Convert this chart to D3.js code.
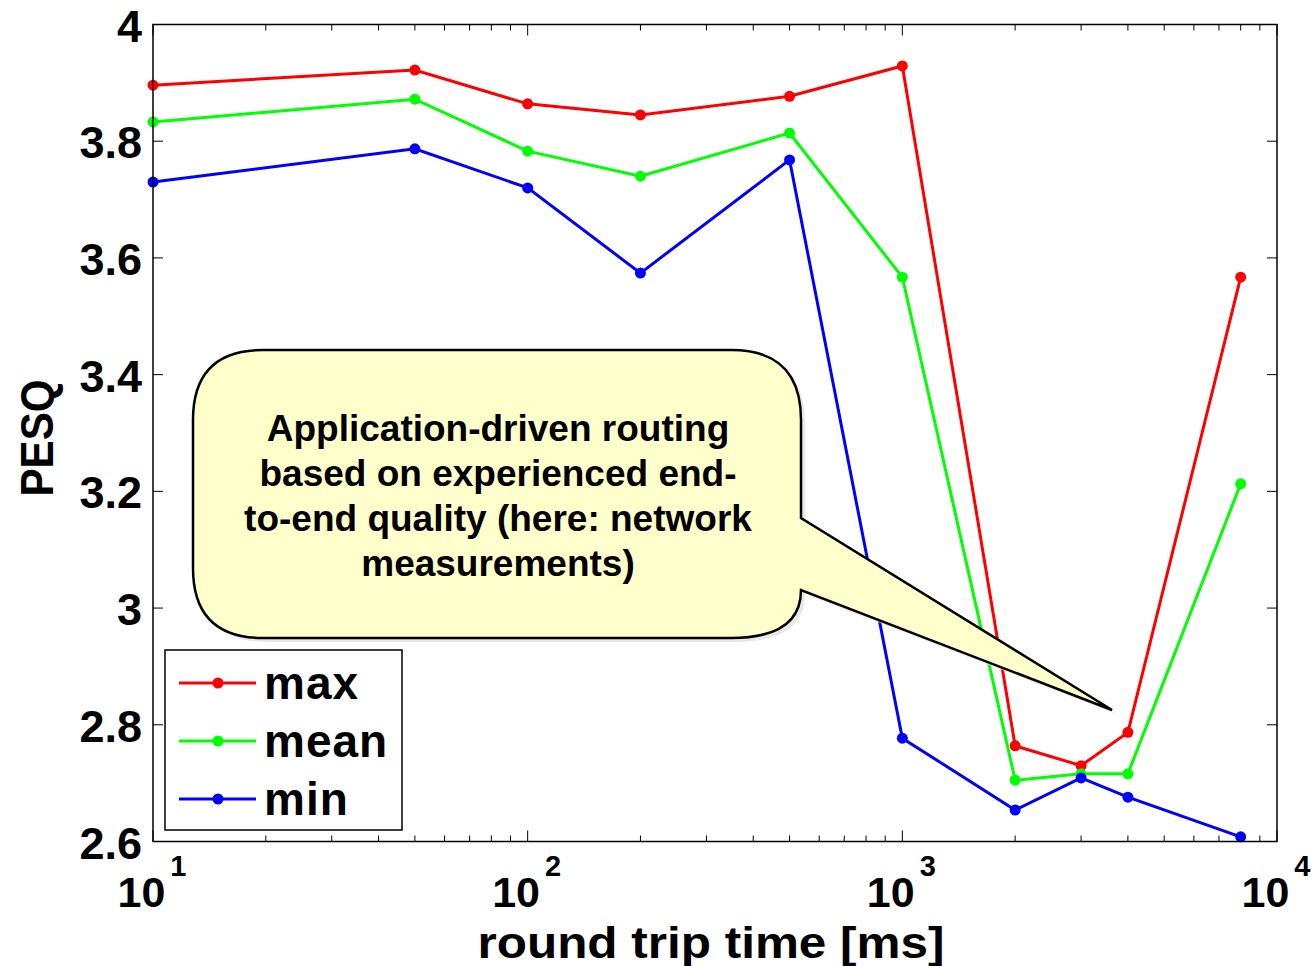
<!DOCTYPE html>
<html><head><meta charset="utf-8">
<script src="https://cdn.jsdelivr.net/npm/d3@7"></script>
<style>body{margin:0;background:#fff}svg{display:block}text{font-family:"Liberation Sans",Arial,sans-serif;font-weight:bold}</style>
</head><body>
<svg id="c" width="1312" height="966"></svg>
<script>
const rtt = [10, 50, 100, 200, 500, 1000, 2000, 3000, 4000, 8000];
const maxVals  = [3.896, 3.922, 3.864, 3.845, 3.877, 3.929, 2.764, 2.730, 2.787, 3.567];
const meanVals = [3.833, 3.872, 3.783, 3.740, 3.814, 3.567, 2.705, 2.716, 2.716, 3.213];
const minVals  = [3.730, 3.787, 3.720, 3.574, 3.768, 2.777, 2.654, 2.709, 2.676, 2.608];
const seriesNames = ["max", "mean", "min"];
const seriesColors = ["#ff0000", "#00ff00", "#0000ff"];
const yTicks = [2.6, 2.8, 3, 3.2, 3.4, 3.6, 3.8, 4];
const xTickExps = [1, 2, 3, 4];
const calloutLines = ["Application-driven routing", "based on experienced end-", "to-end quality (here: network", "measurements)"];

const svg = d3.select("#c");
const L = 153, R = 1277, T = 24.5, B = 841.5;
const x = d3.scaleLog().domain([10, 10000]).range([L, R]);
const y = d3.scaleLinear().domain([2.6, 4]).range([B, T]);

// ticks
const minor = [];
for (let e = 1; e < 4; e++) for (let m = 2; m <= 9; m++) minor.push(m * Math.pow(10, e));
const tg = svg.append("g").attr("stroke", "#000").attr("stroke-width", 1);
minor.forEach(v => {
  tg.append("line").attr("x1", x(v)).attr("x2", x(v)).attr("y1", B).attr("y2", B - 6);
  tg.append("line").attr("x1", x(v)).attr("x2", x(v)).attr("y1", T).attr("y2", T + 6);
});
xTickExps.forEach(e => {
  const v = Math.pow(10, e);
  tg.append("line").attr("x1", x(v)).attr("x2", x(v)).attr("y1", B).attr("y2", B - 11);
  tg.append("line").attr("x1", x(v)).attr("x2", x(v)).attr("y1", T).attr("y2", T + 11);
});
yTicks.forEach(v => {
  tg.append("line").attr("x1", L).attr("x2", L + 10).attr("y1", y(v)).attr("y2", y(v));
  tg.append("line").attr("x1", R).attr("x2", R - 10).attr("y1", y(v)).attr("y2", y(v));
});

// y tick labels
svg.append("g").selectAll("text").data(yTicks).join("text")
  .attr("x", L - 11).attr("y", d => y(d) + 17).attr("text-anchor", "end")
  .attr("font-size", 45).text(d => d3.format("")(+d.toFixed(1)));

// x tick labels
xTickExps.forEach(e => {
  const t = svg.append("text").attr("x", x(Math.pow(10, e)) - 1).attr("y", 907)
    .attr("text-anchor", "middle").attr("font-size", 43);
  t.append("tspan").text("10");
  t.append("tspan").attr("dx", 5).attr("dy", -31).attr("font-size", 29).text(e);
});

// axis labels
svg.append("text").attr("x", 711).attr("y", 958).attr("text-anchor", "middle")
  .attr("font-size", 44).attr("textLength", 467).attr("lengthAdjust", "spacingAndGlyphs").text("round trip time [ms]");
svg.append("text").attr("transform", "translate(53,438) rotate(-90)").attr("text-anchor", "middle")
  .attr("font-size", 46).attr("textLength", 117).attr("lengthAdjust", "spacingAndGlyphs").text("PESQ");

// series
const all = [maxVals, meanVals, minVals];
const line = d3.line().x((d, i) => x(rtt[i])).y(d => y(d));
all.forEach((vals, k) => {
  const g = svg.append("g");
  g.append("path").attr("d", line(vals)).attr("fill", "none").attr("stroke", seriesColors[k]).attr("stroke-width", 3);
  g.selectAll("circle").data(vals).join("circle")
    .attr("cx", (d, i) => x(rtt[i])).attr("cy", d => y(d)).attr("r", 5.5).attr("fill", seriesColors[k]);
});

// callout
const bx = 193, by = 350, bw = 608, bh = 288, r = 70;
const tip = [1112, 710];
const p = d3.path();
p.moveTo(bx + r, by);
p.lineTo(bx + bw - r, by);
p.quadraticCurveTo(bx + bw, by, bx + bw, by + r);
p.lineTo(bx + bw, 518);
p.lineTo(tip[0], tip[1]);
p.lineTo(bx + bw, 590);
p.quadraticCurveTo(bx + bw, by + bh, bx + bw - r, by + bh);
p.lineTo(bx + r, by + bh);
p.quadraticCurveTo(bx, by + bh, bx, by + bh - r);
p.lineTo(bx, by + r);
p.quadraticCurveTo(bx, by, bx + r, by);
p.closePath();
svg.append("path").attr("d", p.toString()).attr("transform", "translate(4,4)").attr("fill", "#d8d8d8").attr("opacity", 0.6);
svg.append("path").attr("d", p.toString()).attr("fill", "#ffffcc").attr("stroke", "#000").attr("stroke-width", 2.5).attr("stroke-linejoin", "miter");
svg.append("g").selectAll("text").data(calloutLines).join("text")
  .attr("x", 498).attr("y", (d, i) => 441 + i * 45).attr("text-anchor", "middle")
  .attr("font-size", 37).text(d => d);

// legend
const lg = svg.append("g");
lg.append("rect").attr("x", 165).attr("y", 650).attr("width", 237).attr("height", 180)
  .attr("fill", "#fff").attr("stroke", "#000").attr("stroke-width", 1.5);
seriesNames.forEach((n, k) => {
  const yy = 683 + k * 58;
  lg.append("line").attr("x1", 179).attr("x2", 256).attr("y1", yy).attr("y2", yy).attr("stroke", seriesColors[k]).attr("stroke-width", 3);
  lg.append("circle").attr("cx", 218).attr("cy", yy).attr("r", 5.5).attr("fill", seriesColors[k]);
  lg.append("text").attr("x", 264).attr("y", yy + 16).attr("font-size", 46).attr("letter-spacing", 1).text(n);
});

// axes box
svg.append("rect").attr("x", L).attr("y", T).attr("width", R - L).attr("height", B - T)
  .attr("fill", "none").attr("stroke", "#000").attr("stroke-width", 1.5);
</script>
</body></html>
